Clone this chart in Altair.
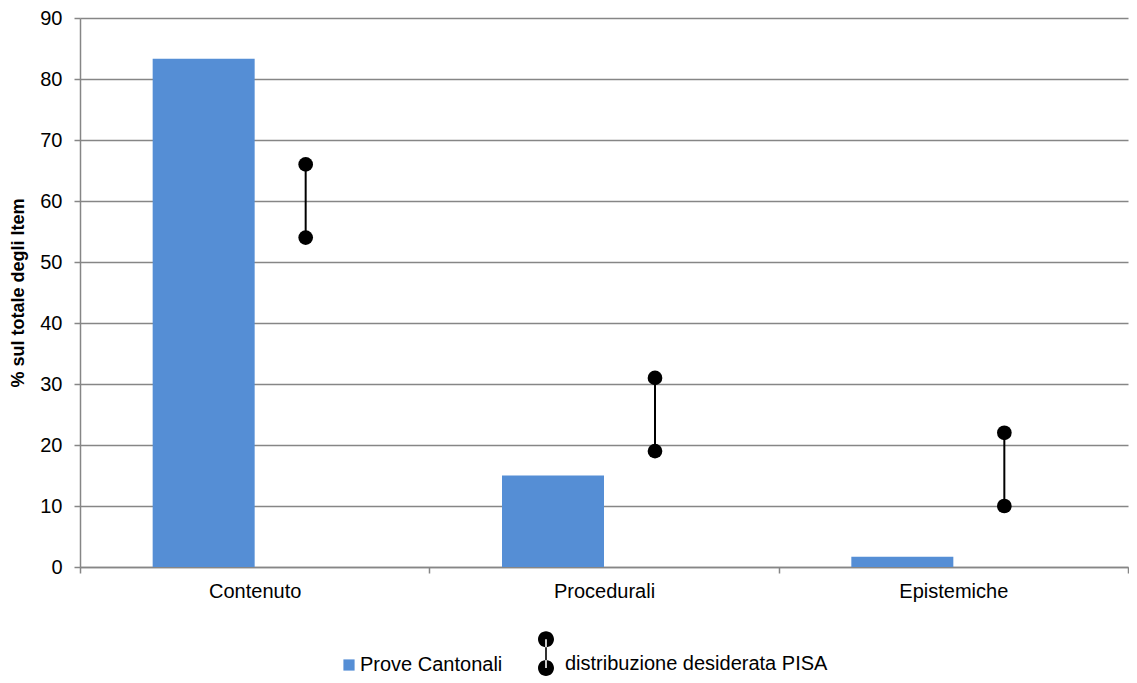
import altair as alt
import pandas as pd

categories = ["Contenuto", "Procedurali", "Epistemiche"]
prove_cantonali = [83.3, 15.0, 1.7]
pisa_min = [54, 19, 10]
pisa_max = [66, 31, 22]
series_names = ["Prove Cantonali", "distribuzione desiderata PISA"]
y_ticks = [0, 10, 20, 30, 40, 50, 60, 70, 80, 90]

bars_df = pd.DataFrame({"cat": categories, "val": prove_cantonali, "series": series_names[0]})
range_df = pd.DataFrame({"cat": categories, "lo": pisa_min, "hi": pisa_max})
pts_df = pd.DataFrame({"cat": categories * 2, "val": pisa_min + pisa_max,
                       "series": series_names[1]})

FONT = "Liberation Sans"
GRID = "#868686"

SQUARE = "M-0.7,-0.7H0.7V0.7H-0.7Z"
DUMBBELL = ("M-1.1,-3.1H-0.9V0.5H-1.1Z"
            "M-2,-3.1A1,1,0,1,0,0,-3.1A1,1,0,1,0,-2,-3.1Z"
            "M-2,0.5A1,1,0,1,0,0,0.5A1,1,0,1,0,-2,0.5Z")

color_scale = alt.Scale(domain=series_names, range=["#558ED5", "#000000"])
shape_scale = alt.Scale(domain=series_names, range=[SQUARE, DUMBBELL])

legend = alt.Legend(orient="none", legendX=259, legendY=636, direction="horizontal",
                    title=None, symbolSize=256, labelFontSize=20, labelFont=FONT,
                    labelColor="#000000", columnPadding=35, labelOffset=1,
                    labelLimit=0)

x_enc = alt.X("cat:N", sort=categories, title=None,
              scale=alt.Scale(paddingInner=0, paddingOuter=0),
              axis=alt.Axis(tickBand="extent", labelAngle=0, labelFontSize=20,
                            labelFont=FONT, labelColor="#000000", domainColor=GRID,
                            domainWidth=1.5, tickColor=GRID, tickWidth=1.5, tickSize=6,
                            labelPadding=8, grid=False))
y_scale = alt.Scale(domain=[0, 90], nice=False, zero=True)
y_axis = alt.Axis(values=y_ticks, title="% sul totale degli Item", titleFontSize=18,
                  titleFont=FONT, titleFontWeight="bold", titleColor="#000000",
                  titlePadding=12, labelFontSize=20, labelFont=FONT,
                  labelColor="#000000", labelPadding=12, domainColor=GRID,
                  domainWidth=1.5, tickColor=GRID, tickWidth=1.5, tickSize=6,
                  gridColor=GRID, gridWidth=1.5)

bars = alt.Chart(bars_df).mark_bar(width=102, xOffset=-51).encode(
    x=x_enc,
    y=alt.Y("val:Q", scale=y_scale, axis=y_axis),
    color=alt.Color("series:N", scale=color_scale, legend=legend),
)

rules = alt.Chart(range_df).mark_rule(xOffset=51, strokeWidth=2, color="#000000").encode(
    x=alt.X("cat:N", sort=categories),
    y=alt.Y("lo:Q"),
    y2="hi:Q",
)

points = alt.Chart(pts_df).mark_point(xOffset=51, filled=True, size=216, opacity=1,
                                      shape="circle").encode(
    x=alt.X("cat:N", sort=categories),
    y=alt.Y("val:Q"),
    color=alt.Color("series:N", scale=color_scale, legend=legend),
)

legend_carrier = alt.Chart(pts_df).mark_point(filled=True, size=0, opacity=1).encode(
    x=alt.X("cat:N", sort=categories),
    y=alt.Y("val:Q"),
    color=alt.Color("series:N", scale=color_scale, legend=legend),
    shape=alt.Shape("series:N", scale=shape_scale, legend=legend),
)

chart = alt.layer(bars, rules, points, legend_carrier).properties(
    width=1048, height=549,
    padding={"left": 1, "top": 0, "right": 0, "bottom": 0},
).configure_view(stroke=None)

chart.save("out.html", embed_options={"renderer": "svg", "actions": False})
